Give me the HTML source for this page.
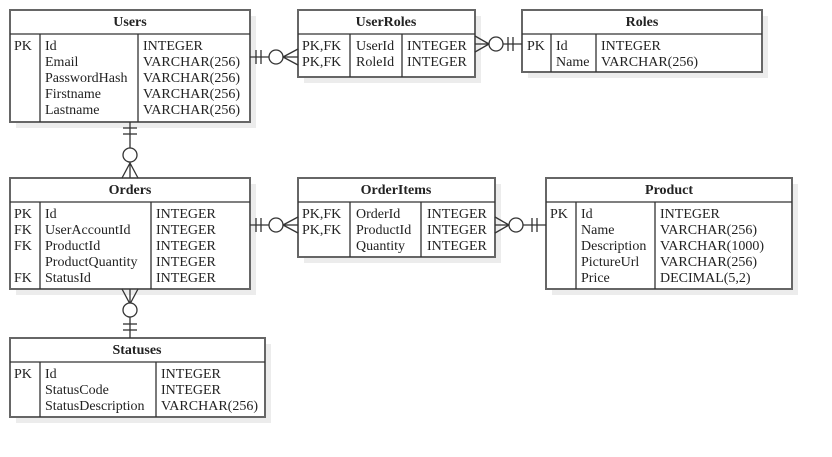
<!DOCTYPE html>
<html><head><meta charset="utf-8"><style>
html,body{margin:0;padding:0;background:#fff;}
svg{display:block;}
text{font-family:"Liberation Serif",serif;font-size:14px;fill:#222;}
.h{font-weight:bold;text-anchor:middle;}
.b{fill:#fff;stroke:#666;stroke-width:2;}
.s{fill:#ececec;}
.l{stroke:#333;stroke-width:1.3;fill:none;}
.ln{stroke:#333;stroke-width:1.3;fill:none;}
</style></head><body>
<svg width="832" height="457" viewBox="0 0 832 457" xmlns="http://www.w3.org/2000/svg">
<!-- shadows -->
<rect class="s" x="16" y="16" width="240" height="112"/>
<rect class="s" x="304" y="16" width="177" height="67"/>
<rect class="s" x="528" y="16" width="240" height="62"/>
<rect class="s" x="16" y="184" width="240" height="111"/>
<rect class="s" x="304" y="184" width="197" height="79"/>
<rect class="s" x="552" y="184" width="246" height="111"/>
<rect class="s" x="16" y="344" width="255" height="79"/>

<!-- Users -->
<rect class="b" x="10" y="10" width="240" height="112"/>
<line class="ln" x1="10" y1="34" x2="250" y2="34"/>
<line class="l" x1="40" y1="34" x2="40" y2="122"/>
<line class="l" x1="138" y1="34" x2="138" y2="122"/>
<text class="h" x="130" y="26">Users</text>
<text x="14" y="50">PK</text>
<text x="45" y="50">Id</text><text x="45" y="66">Email</text><text x="45" y="82">PasswordHash</text><text x="45" y="98">Firstname</text><text x="45" y="114">Lastname</text>
<text x="143" y="50">INTEGER</text><text x="143" y="66">VARCHAR(256)</text><text x="143" y="82">VARCHAR(256)</text><text x="143" y="98">VARCHAR(256)</text><text x="143" y="114">VARCHAR(256)</text>

<!-- UserRoles -->
<rect class="b" x="298" y="10" width="177" height="67"/>
<line class="ln" x1="298" y1="34" x2="475" y2="34"/>
<line class="l" x1="350" y1="34" x2="350" y2="77"/>
<line class="l" x1="402" y1="34" x2="402" y2="77"/>
<text class="h" x="386" y="26">UserRoles</text>
<text x="302" y="50">PK,FK</text><text x="302" y="66">PK,FK</text>
<text x="356" y="50">UserId</text><text x="356" y="66">RoleId</text>
<text x="407" y="50">INTEGER</text><text x="407" y="66">INTEGER</text>

<!-- Roles -->
<rect class="b" x="522" y="10" width="240" height="62"/>
<line class="ln" x1="522" y1="34" x2="762" y2="34"/>
<line class="l" x1="551" y1="34" x2="551" y2="72"/>
<line class="l" x1="596" y1="34" x2="596" y2="72"/>
<text class="h" x="642" y="26">Roles</text>
<text x="527" y="50">PK</text>
<text x="556" y="50">Id</text><text x="556" y="66">Name</text>
<text x="601" y="50">INTEGER</text><text x="601" y="66">VARCHAR(256)</text>

<!-- Orders -->
<rect class="b" x="10" y="178" width="240" height="111"/>
<line class="ln" x1="10" y1="202" x2="250" y2="202"/>
<line class="l" x1="40" y1="202" x2="40" y2="289"/>
<line class="l" x1="151" y1="202" x2="151" y2="289"/>
<text class="h" x="130" y="194">Orders</text>
<text x="14" y="218">PK</text><text x="14" y="234">FK</text><text x="14" y="250">FK</text><text x="14" y="282">FK</text>
<text x="45" y="218">Id</text><text x="45" y="234">UserAccountId</text><text x="45" y="250">ProductId</text><text x="45" y="266">ProductQuantity</text><text x="45" y="282">StatusId</text>
<text x="156" y="218">INTEGER</text><text x="156" y="234">INTEGER</text><text x="156" y="250">INTEGER</text><text x="156" y="266">INTEGER</text><text x="156" y="282">INTEGER</text>

<!-- OrderItems -->
<rect class="b" x="298" y="178" width="197" height="79"/>
<line class="ln" x1="298" y1="202" x2="495" y2="202"/>
<line class="l" x1="350" y1="202" x2="350" y2="257"/>
<line class="l" x1="421" y1="202" x2="421" y2="257"/>
<text class="h" x="396" y="194">OrderItems</text>
<text x="302" y="218">PK,FK</text><text x="302" y="234">PK,FK</text>
<text x="356" y="218">OrderId</text><text x="356" y="234">ProductId</text><text x="356" y="250">Quantity</text>
<text x="427" y="218">INTEGER</text><text x="427" y="234">INTEGER</text><text x="427" y="250">INTEGER</text>

<!-- Product -->
<rect class="b" x="546" y="178" width="246" height="111"/>
<line class="ln" x1="546" y1="202" x2="792" y2="202"/>
<line class="l" x1="576" y1="202" x2="576" y2="289"/>
<line class="l" x1="655" y1="202" x2="655" y2="289"/>
<text class="h" x="669" y="194">Product</text>
<text x="550" y="218">PK</text>
<text x="581" y="218">Id</text><text x="581" y="234">Name</text><text x="581" y="250">Description</text><text x="581" y="266">PictureUrl</text><text x="581" y="282">Price</text>
<text x="660" y="218">INTEGER</text><text x="660" y="234">VARCHAR(256)</text><text x="660" y="250">VARCHAR(1000)</text><text x="660" y="266">VARCHAR(256)</text><text x="660" y="282">DECIMAL(5,2)</text>

<!-- Statuses -->
<rect class="b" x="10" y="338" width="255" height="79"/>
<line class="ln" x1="10" y1="362" x2="265" y2="362"/>
<line class="l" x1="40" y1="362" x2="40" y2="417"/>
<line class="l" x1="156" y1="362" x2="156" y2="417"/>
<text class="h" x="137" y="354">Statuses</text>
<text x="14" y="378">PK</text>
<text x="45" y="378">Id</text><text x="45" y="394">StatusCode</text><text x="45" y="410">StatusDescription</text>
<text x="161" y="378">INTEGER</text><text x="161" y="394">INTEGER</text><text x="161" y="410">VARCHAR(256)</text>

<!-- Users - UserRoles (y=57) -->
<g class="l">
<line x1="250" y1="57" x2="270" y2="57"/>
<line x1="256" y1="50" x2="256" y2="64"/><line x1="261" y1="50" x2="261" y2="64"/>
<circle cx="276" cy="57" r="7" fill="#fff"/>
<line x1="283" y1="57" x2="298" y2="57"/>
<line x1="283" y1="57" x2="298" y2="49"/><line x1="283" y1="57" x2="298" y2="65"/>
</g>
<!-- UserRoles - Roles (y=44) -->
<g class="l">
<line x1="475" y1="44" x2="490" y2="44"/>
<line x1="475" y1="36" x2="489" y2="44"/><line x1="475" y1="52" x2="489" y2="44"/>
<circle cx="496" cy="44" r="7" fill="#fff"/>
<line x1="503" y1="44" x2="522" y2="44"/>
<line x1="508" y1="37" x2="508" y2="51"/><line x1="513" y1="37" x2="513" y2="51"/>
</g>
<!-- Users - Orders (x=130) -->
<g class="l">
<line x1="130" y1="122" x2="130" y2="148"/>
<line x1="123" y1="128" x2="137" y2="128"/><line x1="123" y1="134" x2="137" y2="134"/>
<circle cx="130" cy="155" r="7" fill="#fff"/>
<line x1="130" y1="162" x2="130" y2="178"/>
<line x1="130" y1="163" x2="122" y2="178"/><line x1="130" y1="163" x2="138" y2="178"/>
</g>
<!-- Orders - OrderItems (y=225) -->
<g class="l">
<line x1="250" y1="225" x2="270" y2="225"/>
<line x1="256" y1="218" x2="256" y2="232"/><line x1="261" y1="218" x2="261" y2="232"/>
<circle cx="276" cy="225" r="7" fill="#fff"/>
<line x1="283" y1="225" x2="298" y2="225"/>
<line x1="283" y1="225" x2="298" y2="217"/><line x1="283" y1="225" x2="298" y2="233"/>
</g>
<!-- OrderItems - Product (y=225) -->
<g class="l">
<line x1="495" y1="225" x2="510" y2="225"/>
<line x1="495" y1="217" x2="509" y2="225"/><line x1="495" y1="233" x2="509" y2="225"/>
<circle cx="516" cy="225" r="7" fill="#fff"/>
<line x1="523" y1="225" x2="546" y2="225"/>
<line x1="532" y1="218" x2="532" y2="232"/><line x1="537" y1="218" x2="537" y2="232"/>
</g>
<!-- Orders - Statuses (x=130) -->
<g class="l">
<line x1="130" y1="289" x2="130" y2="304"/>
<line x1="122" y1="289" x2="130" y2="304"/><line x1="138" y1="289" x2="130" y2="304"/>
<circle cx="130" cy="310" r="7" fill="#fff"/>
<line x1="130" y1="317" x2="130" y2="338"/>
<line x1="123" y1="324" x2="137" y2="324"/><line x1="123" y1="330" x2="137" y2="330"/>
</g>
</svg>
</body></html>
